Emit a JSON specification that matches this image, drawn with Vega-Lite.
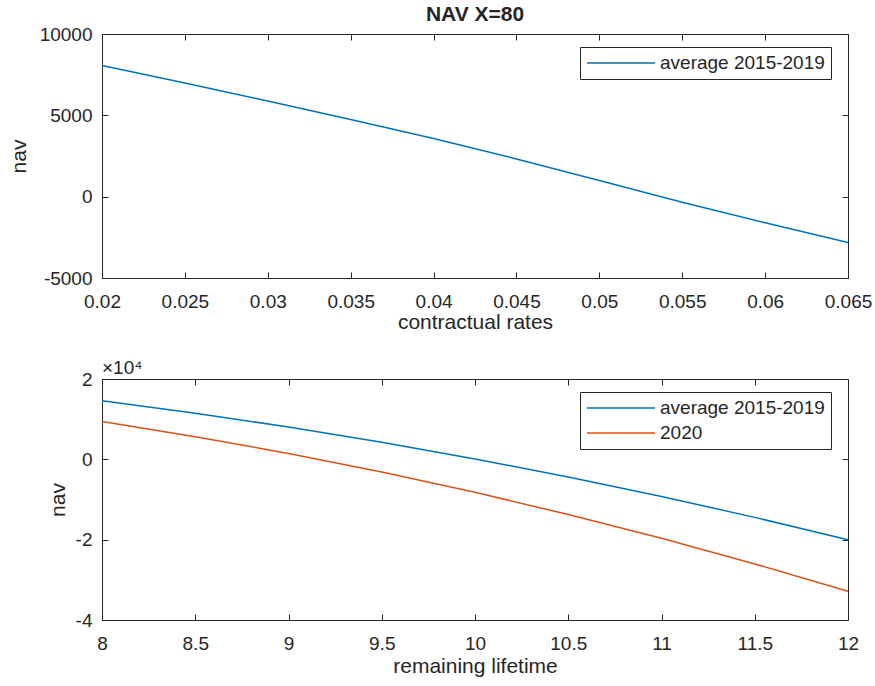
{
  "$schema": "https://vega.github.io/schema/vega-lite/v6.json",
  "background": "white",
  "padding": {"left": 7, "top": 3, "right": 5, "bottom": 3},
  "spacing": 25,
  "config": {
    "font": "Liberation Sans",
    "view": {"stroke": "#262626", "strokeWidth": 1},
    "axis": {
      "labelFont": "Liberation Sans",
      "labelFontSize": 19,
      "labelColor": "#262626",
      "titleFont": "Liberation Sans",
      "titleFontSize": 21,
      "titleFontWeight": "normal",
      "titleColor": "#262626",
      "tickColor": "#262626",
      "tickSize": -6,
      "tickWidth": 1,
      "domain": false,
      "grid": false,
      "labelOverlap": false,
      "labelFlush": false,
      "labelBound": false
    },
    "axisX": {"labelPadding": 20},
    "axisY": {"labelPadding": 16},
    "legend": {
      "orient": "none",
      "legendX": 478,
      "legendY": 13,
      "title": null,
      "strokeColor": "#262626",
      "fillColor": "white",
      "padding": 6,
      "cornerRadius": 0,
      "symbolType": "stroke",
      "symbolSize": 4624,
      "symbolStrokeWidth": 1.5,
      "clipHeight": 20,
      "rowPadding": 5,
      "labelOffset": 4,
      "labelFont": "Liberation Sans",
      "labelFontSize": 19,
      "labelColor": "#262626",
      "labelLimit": 400
    },
    "title": {"font": "Liberation Sans", "color": "#262626"}
  },
  "resolve": {"scale": {"x": "independent", "y": "independent", "color": "independent"}},
  "vconcat": [
    {
      "width": 746,
      "height": 244,
      "title": {"text": "NAV X=80", "fontSize": 21, "fontWeight": "bold", "anchor": "middle", "frame": "group", "offset": 0},
      "data": {"values": [
        {"rate": 0.02, "nav": 8060, "series": "average 2015-2019"},
        {"rate": 0.025, "nav": 6985, "series": "average 2015-2019"},
        {"rate": 0.03, "nav": 5880, "series": "average 2015-2019"},
        {"rate": 0.035, "nav": 4750, "series": "average 2015-2019"},
        {"rate": 0.04, "nav": 3580, "series": "average 2015-2019"},
        {"rate": 0.045, "nav": 2320, "series": "average 2015-2019"},
        {"rate": 0.05, "nav": 990, "series": "average 2015-2019"},
        {"rate": 0.055, "nav": -340, "series": "average 2015-2019"},
        {"rate": 0.06, "nav": -1600, "series": "average 2015-2019"},
        {"rate": 0.065, "nav": -2820, "series": "average 2015-2019"}
      ]},
      "layer": [
        {
          "mark": {"type": "line", "strokeWidth": 1.5},
          "encoding": {
            "x": {"field": "rate", "type": "quantitative",
              "scale": {"domain": [0.02, 0.065], "nice": false, "zero": false},
              "axis": {"values": [0.02, 0.025, 0.03, 0.035, 0.04, 0.045, 0.05, 0.055, 0.06, 0.065], "labelExpr": "'' + datum.value", "title": "contractual rates", "titlePadding": 0}},
            "y": {"field": "nav", "type": "quantitative",
              "scale": {"domain": [-5000, 10000], "nice": false, "zero": false},
              "axis": {"values": [-5000, 0, 5000, 10000], "labelExpr": "'' + datum.value", "title": "nav", "titlePadding": 10}},
            "color": {"field": "series", "type": "nominal",
              "scale": {"domain": ["average 2015-2019"], "range": ["#0072BD"]},
              "legend": {"orient": "none", "legendX": 478, "legendY": 13}}
          }
        },
        {
          "mark": {"type": "point", "opacity": 0},
          "encoding": {
            "x": {"field": "rate", "type": "quantitative",
              "axis": {"orient": "top", "labels": false, "title": null, "values": [0.02, 0.025, 0.03, 0.035, 0.04, 0.045, 0.05, 0.055, 0.06, 0.065]}},
            "y": {"field": "nav", "type": "quantitative",
              "axis": {"orient": "right", "labels": false, "title": null, "values": [-5000, 0, 5000, 10000]}}
          }
        }
      ],
      "resolve": {"axis": {"x": "independent", "y": "independent"}}
    },
    {
      "width": 746,
      "height": 241,
      "title": {"text": "×10⁴", "fontSize": 19, "fontWeight": "normal", "anchor": "start", "frame": "group", "offset": -7.5},
      "data": {"values": [
        {"lifetime": 8, "nav": 14600, "series": "average 2015-2019"},
        {"lifetime": 8.5, "nav": 11500, "series": "average 2015-2019"},
        {"lifetime": 9, "nav": 8050, "series": "average 2015-2019"},
        {"lifetime": 9.5, "nav": 4250, "series": "average 2015-2019"},
        {"lifetime": 10, "nav": 100, "series": "average 2015-2019"},
        {"lifetime": 10.5, "nav": -4400, "series": "average 2015-2019"},
        {"lifetime": 11, "nav": -9250, "series": "average 2015-2019"},
        {"lifetime": 11.5, "nav": -14450, "series": "average 2015-2019"},
        {"lifetime": 12, "nav": -20000, "series": "average 2015-2019"},
        {"lifetime": 8, "nav": 9400, "series": "2020"},
        {"lifetime": 8.5, "nav": 5650, "series": "2020"},
        {"lifetime": 9, "nav": 1460, "series": "2020"},
        {"lifetime": 9.5, "nav": -3160, "series": "2020"},
        {"lifetime": 10, "nav": -8220, "series": "2020"},
        {"lifetime": 10.5, "nav": -13720, "series": "2020"},
        {"lifetime": 11, "nav": -19660, "series": "2020"},
        {"lifetime": 11.5, "nav": -26040, "series": "2020"},
        {"lifetime": 12, "nav": -32850, "series": "2020"}
      ]},
      "layer": [
        {
          "mark": {"type": "line", "strokeWidth": 1.5},
          "encoding": {
            "x": {"field": "lifetime", "type": "quantitative",
              "scale": {"domain": [8, 12], "nice": false, "zero": false},
              "axis": {"values": [8, 8.5, 9, 9.5, 10, 10.5, 11, 11.5, 12], "labelExpr": "'' + datum.value", "title": "remaining lifetime", "titlePadding": 2}},
            "y": {"field": "nav", "type": "quantitative",
              "scale": {"domain": [-40000, 20000], "nice": false, "zero": false},
              "axis": {"values": [-40000, -20000, 0, 20000], "labelExpr": "'' + (datum.value / 10000)", "title": "nav", "titlePadding": 7}},
            "color": {"field": "series", "type": "nominal",
              "scale": {"domain": ["average 2015-2019", "2020"], "range": ["#0072BD", "#D95319"]},
              "legend": {"orient": "none", "legendX": 478, "legendY": 13}}
          }
        },
        {
          "mark": {"type": "point", "opacity": 0},
          "encoding": {
            "x": {"field": "lifetime", "type": "quantitative",
              "axis": {"orient": "top", "labels": false, "title": null, "values": [8, 8.5, 9, 9.5, 10, 10.5, 11, 11.5, 12]}},
            "y": {"field": "nav", "type": "quantitative",
              "axis": {"orient": "right", "labels": false, "title": null, "values": [-40000, -20000, 0, 20000]}}
          }
        }
      ],
      "resolve": {"axis": {"x": "independent", "y": "independent"}}
    }
  ]
}
